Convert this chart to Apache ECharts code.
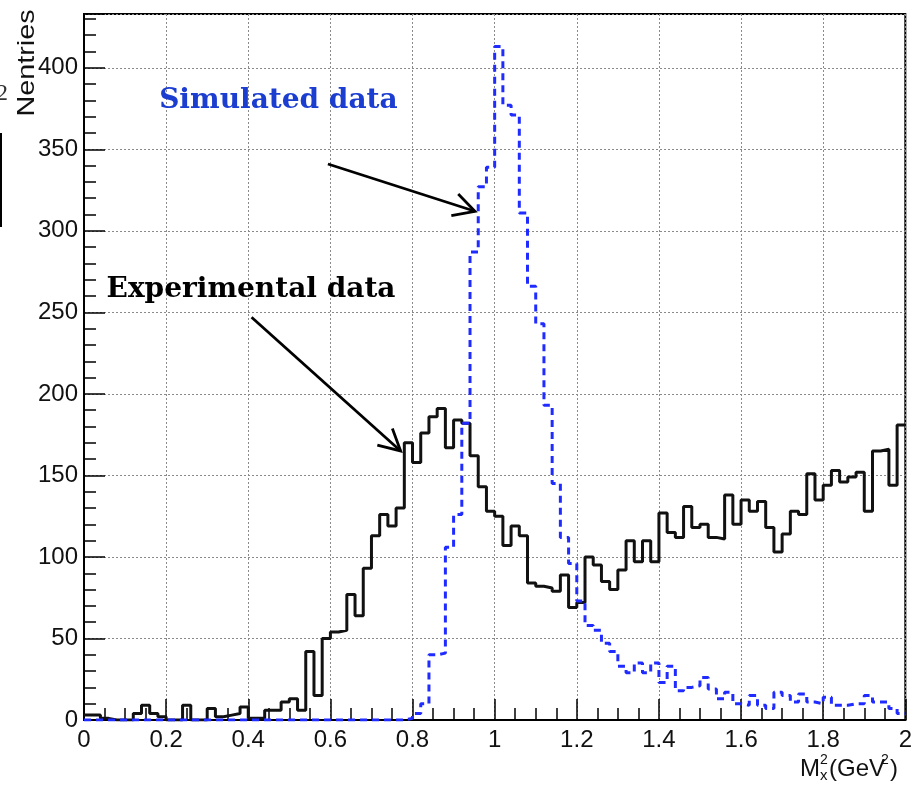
<!DOCTYPE html>
<html>
<head>
<meta charset="utf-8">
<script src="https://cdn.jsdelivr.net/npm/echarts@6/dist/echarts.min.js"></script>
<style>
  html, body { margin: 0; padding: 0; background: #fff; }
  #chart { width: 915px; height: 785px; }
</style>
</head>
<body>
<div id="chart"></div>
<script>
// Histogram binning: 100 bins of 0.02 GeV^2 from 0 to 2
const binLow = 0;
const binWidth = 0.02;
const binCount = 100;

// Counts per bin, experimental data (solid black)
const experimental = [
  3, 3, 1, 0, 0, 0, 4, 9, 4, 2,
  0, 0, 9, 0, 0, 7, 2, 3, 4, 8,
  1, 1, 6, 6, 11, 13, 6, 42, 15, 50,
  54, 55, 77, 64, 93, 113, 126, 119, 130, 170,
  158, 176, 186, 191, 167, 184, 182, 162, 143, 128,
  125, 107, 119, 113, 84, 82, 81, 79, 89, 69,
  72, 100, 95, 85, 80, 92, 110, 97, 110, 97,
  127, 115, 112, 131, 118, 120, 112, 111, 138, 120,
  135, 128, 134, 118, 103, 114, 128, 126, 151, 135,
  144, 153, 146, 149, 152, 128, 165, 166, 144, 181
];

// Counts per bin, simulated data (dashed blue)
const simulated = [
  0, 0, 0, 0, 0, 0, 0, 0, 0, 0,
  0, 0, 0, 0, 0, 0, 0, 0, 0, 0,
  0, 0, 0, 0, 0, 0, 0, 0, 0, 0,
  0, 0, 0, 0, 0, 0, 0, 0, 0, 1,
  4, 10, 40, 41, 106, 126, 182, 287, 327, 339,
  413, 377, 371, 311, 266, 243, 193, 145, 112, 96,
  73, 58, 55, 47, 42, 33, 29, 35, 29, 35,
  23, 33, 18, 20, 21, 26, 19, 13, 17, 10,
  9, 15, 9, 7, 17, 15, 11, 16, 11, 10,
  14, 9, 9, 10, 10, 15, 11, 11, 7, 4
];

// Axis ranges and tick spacing
const xRange = [0, 2];
const xMajor = 0.2;
const yRange = [0, 433];
const yMajor = 50;
const yMinor = 10;

// Text annotations and arrows, placed in data coordinates
const noteTexts = ['Simulated data', 'Experimental data'];
const noteColors = ['#1b3dd0', '#000000'];
const noteAnchors = [[0.183, 380], [0.055, 264]];
const arrowTails = [[0.594, 341], [0.408, 247]];
const arrowTips = [[0.952, 312], [0.771, 165]];

// Turn bin counts into step-line points: each bin's left edge, plus the closing right edge
function histPoints(counts) {
  const pts = counts.map((c, i) => [+(binLow + i * binWidth).toFixed(4), c]);
  pts.push([+(binLow + binCount * binWidth).toFixed(4), counts[counts.length - 1]]);
  return pts;
}

const tickFont = { color: '#111', fontSize: 24, fontFamily: 'Liberation Sans' };
const gridRect = { left: 84, right: 4, top: 14, bottom: 65 };
const dotted = { color: '#8a8a8a', width: 1, type: [2, 2] };

const chart = echarts.init(document.getElementById('chart'), null, { renderer: 'canvas' });

const option = {
  animation: false,
  backgroundColor: '#fff',
  grid: [
    Object.assign({ show: true, borderColor: '#000', borderWidth: 2, backgroundColor: 'transparent', containLabel: false }, gridRect),
    Object.assign({ show: false, containLabel: false }, gridRect)
  ],
  xAxis: [
    {
      type: 'value', gridIndex: 0, min: xRange[0], max: xRange[1], interval: xMajor,
      axisLine: { show: true, onZero: false, lineStyle: { color: '#000', width: 2 } },
      axisTick: { show: true, inside: true, length: 21, lineStyle: { color: '#000', width: 1.5 } },
      minorTick: { show: true, splitNumber: 4, length: 12, lineStyle: { color: '#000', width: 1.5 } },
      axisLabel: Object.assign({ margin: 8 }, tickFont),
      splitLine: { show: true, lineStyle: dotted }
    },
    { type: 'value', gridIndex: 1, min: xRange[0], max: xRange[1], show: false }
  ],
  yAxis: [
    {
      type: 'value', gridIndex: 0, min: yRange[0], max: yRange[1], interval: yMajor,
      axisLine: { show: true, onZero: false, lineStyle: { color: '#000', width: 2 } },
      axisTick: { show: true, inside: true, length: 21, lineStyle: { color: '#000', width: 1.5 } },
      axisLabel: Object.assign({
        margin: 6,
        formatter: v => (v % yMajor === 0 ? String(v) : '')
      }, tickFont),
      splitLine: { show: true, lineStyle: dotted }
    },
    {
      // finer tick marks every 10 entries
      type: 'value', gridIndex: 1, min: yRange[0], max: yRange[1], interval: yMinor,
      axisLine: { show: false },
      axisTick: { show: true, inside: true, length: 12, lineStyle: { color: '#000', width: 1.5 } },
      axisLabel: { show: false },
      splitLine: { show: false }
    }
  ],
  series: [
    {
      name: 'Experimental data', type: 'line', xAxisIndex: 0, yAxisIndex: 0,
      step: 'end', symbol: 'none', z: 3,
      lineStyle: { color: '#111', width: 3 },
      data: histPoints(experimental)
    },
    {
      name: 'Simulated data', type: 'line', xAxisIndex: 0, yAxisIndex: 0,
      step: 'end', symbol: 'none', z: 4,
      lineStyle: { color: '#1f2bff', width: 3, type: [7, 5] },
      data: histPoints(simulated)
    }
  ]
};

chart.setOption(option);

// Graphic overlays: axis titles, annotation labels and arrows
const toPx = p => chart.convertToPixel({ seriesIndex: 0 }, p);
const graphics = [];

noteTexts.forEach((t, i) => {
  const p = toPx(noteAnchors[i]);
  graphics.push({
    type: 'text', x: p[0], y: p[1], z: 10,
    style: {
      text: t, fill: noteColors[i], fontSize: 28, fontWeight: 'bold',
      fontFamily: '"DejaVu Serif", "Liberation Serif", serif',
      align: 'left', verticalAlign: 'middle'
    }
  });
});

arrowTails.forEach((tail, i) => {
  const a = toPx(tail);
  const b = toPx(arrowTips[i]);
  const ang = Math.atan2(b[1] - a[1], b[0] - a[0]);
  const headLen = 24, spread = 28 * Math.PI / 180;
  const h1 = [b[0] - headLen * Math.cos(ang - spread), b[1] - headLen * Math.sin(ang - spread)];
  const h2 = [b[0] - headLen * Math.cos(ang + spread), b[1] - headLen * Math.sin(ang + spread)];
  graphics.push({
    type: 'line', z: 10,
    shape: { x1: a[0], y1: a[1], x2: b[0], y2: b[1] },
    style: { stroke: '#000', lineWidth: 2.8 }
  });
  graphics.push({
    type: 'polyline', z: 10,
    shape: { points: [h1, b, h2] },
    style: { stroke: '#000', lineWidth: 2.8, fill: null, lineJoin: 'miter' }
  });
});

// y-axis title, rotated
graphics.push({
  type: 'text', x: 27, y: 63, rotation: Math.PI / 2, scaleX: 1.2, z: 10,
  style: {
    text: 'Nentries', fill: '#111', fontSize: 24, fontFamily: 'Liberation Sans',
    align: 'center', verticalAlign: 'middle'
  }
});

// x-axis title: M with stacked super/subscripts, then (GeV^2)
const titleBase = 781;
const titleParts = [
  { text: 'M', x: 800, y: titleBase, size: 24 },
  { text: '2', x: 820, y: titleBase - 14, size: 14 },
  { text: 'x', x: 820, y: titleBase + 2, size: 15 },
  { text: '(GeV', x: 829, y: titleBase, size: 24 },
  { text: '2', x: 881, y: titleBase - 14, size: 14 },
  { text: ')', x: 890, y: titleBase, size: 24 }
];
titleParts.forEach(tp => {
  graphics.push({
    type: 'text', x: tp.x, y: tp.y, z: 10,
    style: {
      text: tp.text, fill: '#111', fontSize: tp.size, fontFamily: 'Liberation Sans',
      align: 'left', verticalAlign: 'bottom'
    }
  });
});

// leftover fragments along the left edge of the page
graphics.push({
  type: 'text', x: -4, y: 94, z: 10,
  style: { text: '2', fill: '#333', fontSize: 24, fontFamily: 'Liberation Serif', align: 'left', verticalAlign: 'middle' }
});
graphics.push({
  type: 'line', z: 10,
  shape: { x1: 1, y1: 133, x2: 1, y2: 227 },
  style: { stroke: '#000', lineWidth: 2 }
});

chart.setOption({ graphic: graphics });
</script>
</body>
</html>
